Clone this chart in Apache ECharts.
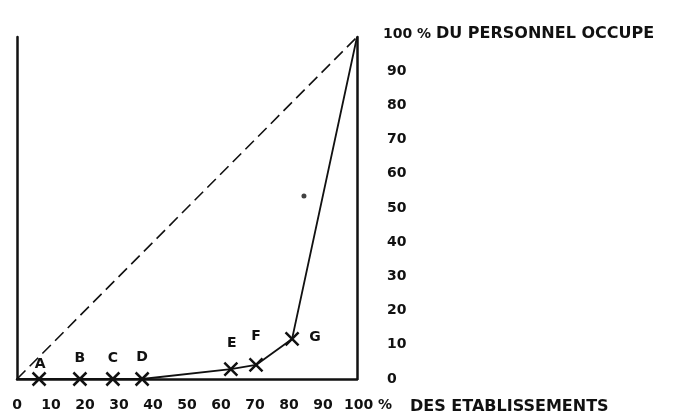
<!DOCTYPE html>
<html>
<head>
<meta charset="utf-8">
<script src="https://cdn.jsdelivr.net/npm/echarts@6/dist/echarts.min.js"></script>
<style>
  html, body { margin: 0; padding: 0; background: #fff; }
  #chart { width: 697px; height: 419px; }
</style>
</head>
<body>
<div id="chart"></div>
<script>
// points de la courbe (A..H)
const pointNames = ["A", "B", "C", "D", "E", "F", "G", "H"];
const pctEtablissements = [6.5, 18.5, 28.2, 36.8, 62.9, 70.3, 80.9, 100];
const pctPersonnel = [0, 0, 0, 0, 2.9, 4.1, 11.7, 100];
// diagonale d'egalite
const diagX = [0, 100];
const diagY = [0, 100];
// petit point isole
const strayX = [84.4];
const strayY = [53.5];
// graduations
const xTickLabels = ["0", "10", "20", "30", "40", "50", "60", "70", "80", "90", "100 %"];
const yTickLabels = ["0", "10", "20", "30", "40", "50", "60", "70", "80", "90", "100 %"];
const yAxisTitle = "DU PERSONNEL OCCUPE";
const xAxisTitle = "DES ETABLISSEMENTS";

const FONT = "DejaVu Sans";
const INK = "#111";

// decalage des lettres par rapport aux croix
const labelOffsets = {
  A: [1, -15], B: [0, -21], C: [0, -21], D: [0, -22],
  E: [1, -26], F: [0, -29], G: [23, -2], H: [5, -24],
};
const crossPath = "path://M0,0L10,10M10,0L0,10";

const curveData = [{ value: [0, 0], symbol: "none" }];
pointNames.forEach((n, i) => {
  curveData.push({
    value: [pctEtablissements[i], pctPersonnel[i]],
    name: n,
    symbol: n === "H" ? "none" : crossPath,
    label: {
      show: true,
      formatter: n === "H" ? "H." : n,
      offset: labelOffsets[n],
      position: "inside",
    },
  });
});

const chart = echarts.init(document.getElementById("chart"));
const tickIdx = (v) => Math.round(v / 10);

chart.setOption({
  backgroundColor: "#fff",
  animation: false,
  grid: { left: 17, right: 340, top: 37, bottom: 40 },
  xAxis: {
    type: "value",
    min: 0,
    max: 100,
    interval: 10,
    axisLine: { show: true, lineStyle: { color: INK, width: 2.5 } },
    axisTick: { show: false },
    splitLine: { show: false },
    axisLabel: {
      margin: 19,
      color: INK,
      fontFamily: FONT,
      fontWeight: "bold",
      fontSize: 14,
      formatter: (v) => {
        const i = tickIdx(v);
        return i === 10 ? "{last|" + xTickLabels[i] + "}" : xTickLabels[i];
      },
      rich: {
        last: { fontFamily: FONT, fontWeight: "bold", fontSize: 14, color: INK, padding: [0, 0, 0, 22] },
      },
    },
    name: xAxisTitle,
    nameLocation: "end",
    nameGap: 53,
    nameTextStyle: {
      color: INK,
      fontFamily: FONT,
      fontWeight: "bold",
      fontSize: 16,
      align: "left",
      verticalAlign: "top",
      padding: [20, 0, 0, 0],
    },
  },
  yAxis: [
    {
      type: "value",
      position: "left",
      min: 0,
      max: 100,
      interval: 10,
      axisLine: { show: true, lineStyle: { color: INK, width: 2.5 } },
      axisTick: { show: false },
      axisLabel: { show: false },
      splitLine: { show: false },
    },
    {
      type: "value",
      position: "right",
      min: 0,
      max: 100,
      interval: 10,
      axisLine: { show: true, lineStyle: { color: INK, width: 2.5 } },
      axisTick: { show: false },
      splitLine: { show: false },
      axisLabel: {
        margin: 30,
        color: INK,
        fontFamily: FONT,
        fontWeight: "bold",
        fontSize: 14,
        formatter: (v) => {
          const i = tickIdx(v);
          return i === 10 ? "{top|" + yTickLabels[i] + "} {ttl|" + yAxisTitle + "}" : yTickLabels[i];
        },
        rich: {
          top: { fontFamily: FONT, fontWeight: "bold", fontSize: 14, color: INK, padding: [0, 0, 6, -4] },
          ttl: { fontFamily: FONT, fontWeight: "bold", fontSize: 16, color: INK, padding: [0, 0, 6, 0] },
        },
      },
    },
  ],
  series: [
    {
      type: "line",
      data: diagX.map((x, i) => [x, diagY[i]]),
      symbol: "none",
      lineStyle: { color: INK, width: 1.6, type: [12, 6] },
      silent: true,
    },
    {
      type: "line",
      data: curveData,
      symbolSize: 13,
      itemStyle: { color: INK, borderColor: INK, borderWidth: 2.5 },
      lineStyle: { color: INK, width: 1.8 },
      label: {
        color: INK,
        fontFamily: FONT,
        fontWeight: "bold",
        fontSize: 14,
      },
      z: 3,
    },
    {
      type: "scatter",
      data: strayX.map((x, i) => [x, strayY[i]]),
      symbolSize: 5,
      itemStyle: { color: INK },
    },
  ],
});
</script>
</body>
</html>
